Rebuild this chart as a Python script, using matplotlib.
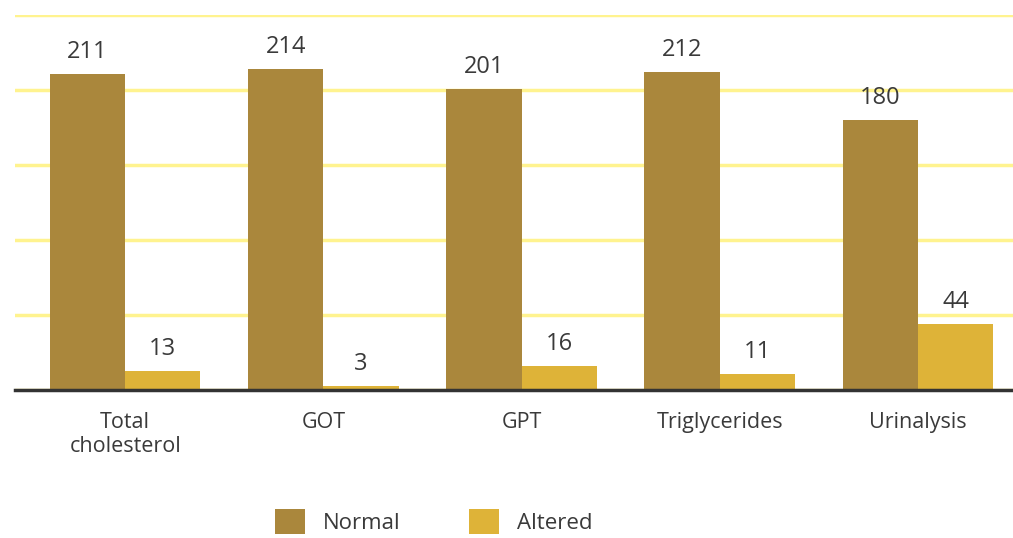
import numpy as np
import matplotlib.pyplot as plt

plt.rcParams['font.family'] = ['Open Sans', 'DejaVu Sans']

# data
categories = ['Total\ncholesterol', 'GOT', 'GPT', 'Triglycerides', 'Urinalysis']
normal = [211, 214, 201, 212, 180]
altered = [13, 3, 16, 11, 44]

c_normal = '#AA873C'
c_altered = '#DEB338'
c_grid = '#FFF38F'
c_text = '#3A3A3A'

fig = plt.figure(figsize=(10.13, 5.38), dpi=100)
ax = fig.add_axes([0.0148, 0.275, 0.9852, 0.697])

x = np.arange(len(categories))
w = 0.38
b1 = ax.bar(x - w / 2, normal, w, color=c_normal, label='Normal', zorder=3)
b2 = ax.bar(x + w / 2, altered, w, color=c_altered, label='Altered', zorder=3)

for bars in (b1, b2):
    ax.bar_label(bars, padding=7, fontsize=17, color=c_text)

ax.set_ylim(0, 250)
ax.set_xlim(-0.556, 4.48)
ax.set_yticks(np.arange(0, 251, 50))
ax.yaxis.grid(True, color=c_grid, linewidth=2.5, zorder=0)
ax.tick_params(axis='y', left=False, labelleft=False)
ax.tick_params(axis='x', length=0, pad=16, labelsize=15.5, labelcolor=c_text)
ax.set_xticks(x)
ax.set_xticklabels(categories, linespacing=1.15)

for s in ['top', 'right', 'left']:
    ax.spines[s].set_visible(False)
ax.spines['bottom'].set_color('#333333')
ax.spines['bottom'].set_linewidth(2.5)
ax.spines['bottom'].set_zorder(4)

fig.legend(loc='center', bbox_to_anchor=(0.428, 0.03), ncol=2, frameon=False,
           fontsize=16, labelcolor=c_text, handlelength=1.35, handleheight=1.35,
           handletextpad=0.8, columnspacing=3.1)

fig.savefig('out.png', dpi=100)
